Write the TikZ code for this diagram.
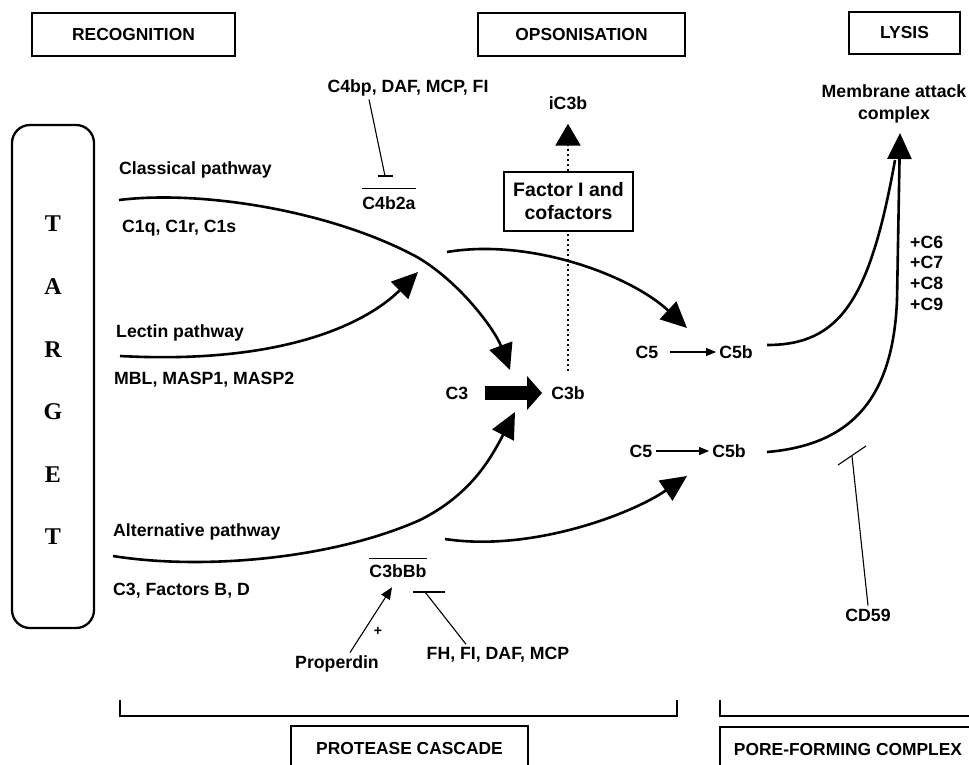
\documentclass[tikz,border=0pt]{standalone}
\usepackage{fontspec}
\setmainfont{Liberation Sans}
\newfontfamily\targetfont{Liberation Serif}
\usetikzlibrary{arrows.meta}

\begin{document}
\begin{tikzpicture}[x=1pt, y=-1pt,
    lbl/.style={font={\fontsize{17.7}{20}\selectfont\bfseries}, inner sep=3pt},
    headbox/.style={draw, line width=2pt, font={\fontsize{17.4}{20}\selectfont\bfseries}, minimum height=43pt},
    tgt/.style={font={\targetfont\fontsize{24}{26}\selectfont\bfseries}},
    route/.style={line width=2.6pt, -{Triangle[length=26pt,width=24pt]}},
    thinline/.style={line width=1.1pt},
    smallarrow/.style={line width=1.1pt, -{Triangle[length=10pt,width=8pt]}},
    bracket/.style={line width=2.6pt},
    dotroute/.style={line width=2.4pt, dash pattern=on 2.5pt off 2.5pt, -{Triangle[length=22pt,width=25pt]}}]

\fill[white] (0,0) rectangle (969,764);
\useasboundingbox (0,0) rectangle (969,764);

% ---- stage headings ----
\node[headbox, minimum width=203pt] (recog) at (133.5,34.5) {RECOGNITION};
\node[headbox, minimum width=207pt] (opson) at (581.5,34.5) {OPSONISATION};
\node[headbox, minimum width=111pt, minimum height=42pt] (lysis) at (904.5,33) {LYSIS};
\node[headbox, minimum width=237pt, minimum height=44pt, anchor=north west] (cascade) at (290,725) {PROTEASE CASCADE};
\node[headbox, minimum width=256pt, minimum height=44pt, anchor=north west] (pore) at (719,726) {PORE-FORMING COMPLEX};

\draw[bracket] (120,700) -- (120,716) -- (677,716) -- (677,700);
\draw[bracket] (720,700) -- (720,716) -- (975,716);

% ---- target surface ----
\node[draw, rounded corners=18pt, line width=2.3pt, minimum width=82pt, minimum height=503pt] (target) at (53,376.5) {};
\foreach \ch [count=\i from 0] in {T,A,R,G,E,T}
  \node[tgt] (tgt\i) at (53,{224+62.6*\i}) {\ch};

% ---- three pathways ----
\node[lbl, anchor=west] (classical) at (116,170) {Classical pathway};
\node[lbl, anchor=west] (c1qrs) at (119,228) {C1q, C1r, C1s};
\node[lbl, anchor=west] (lectin) at (113,333) {Lectin pathway};
\node[lbl, anchor=west] (mbl) at (111,380) {MBL, MASP1, MASP2};
\node[lbl, anchor=west] (altern) at (110,532) {Alternative pathway};
\node[lbl, anchor=west] (c3fact) at (110,591) {C3, Factors B, D};

\coordinate (clS) at (119,200);
\coordinate (clE) at (510,370);
\draw[route] (clS) .. controls (200,190) and (330,210) .. (417,257)
    .. controls (460,282) and (495,330) .. (clE);

\coordinate (leS) at (120,356);
\coordinate (leE) at (418,272);
\draw[route] (leS) .. controls (290,365) and (370,320) .. (leE);

\coordinate (alS) at (113,556);
\coordinate (alE) at (515,412);
\draw[route] (alS) .. controls (200,570) and (330,560) .. (420,520)
    .. controls (470,495) and (490,460) .. (alE);

% ---- convertases and their regulators ----
\node[lbl] (c4bp) at (408,88) {C4bp, DAF, MCP, FI};
\node[lbl, inner ysep=7.5pt, inner xsep=0pt] (c4b2a) at (389,203) {C4b2a};
\draw[thinline] (c4b2a.north west) -- (c4b2a.north east);
\coordinate (c4bar) at (385,176);
\draw[thinline] ([xshift=-39pt]c4bp.south) -- (c4bar);
\draw[thinline] ([xshift=-7.5pt]c4bar) -- ([xshift=7.5pt]c4bar);

\node[lbl, inner ysep=5.5pt, inner xsep=0pt] (c3bbb) at (398,571) {C3bBb};
\draw[thinline] (c3bbb.north west) -- (c3bbb.north east);
\node[lbl] (properdin) at (337,664) {Properdin};
\node[font={\fontsize{14}{16}\selectfont\bfseries}] (plus) at (378,631) {+};
\draw[thinline, -{Triangle[length=12pt,width=10pt]}] ([xshift=13pt]properdin.north) -- ([xshift=-6pt,yshift=-4pt]c3bbb.south);
\node[lbl] (fhfi) at (498,655) {FH, FI, DAF, MCP};
\coordinate (fhbar) at (425,592);
\draw[thinline] ([xshift=-32pt]fhfi.north) -- (fhbar);
\draw[thinline] ([xshift=-12pt]fhbar) -- ([xshift=20pt]fhbar);

% ---- C3 cleavage and opsonisation ----
\node[lbl] (c3) at (457,393) {C3};
\node[lbl] (c3b) at (568,393) {C3b};
\node[lbl] (ic3b) at (568,103) {iC3b};
\draw[line width=14pt, -{Triangle[length=15pt,width=33pt]}, shorten <=13pt, shorten >=6pt] (c3.east) -- (c3b.west);
\draw[dotroute, shorten <=12pt, shorten >=11pt] (c3b.north) -- (ic3b.south);
\node[draw, line width=1.1pt, fill=white, font={\fontsize{19.5}{23}\selectfont\bfseries}, align=center, minimum width=129pt, minimum height=59pt, inner sep=2pt] (facI) at (568.5,201.5) {Factor I and\\cofactors};

% ---- C5 convertases ----
\coordinate (c4S) at (447,252);
\coordinate (c4E) at (687,328);
\draw[route] (c4S) .. controls (530,238) and (630,275) .. (c4E);
\coordinate (bbS) at (445,539);
\coordinate (bbE) at (687,476);
\draw[route] (bbS) .. controls (530,552) and (630,515) .. (bbE);

\node[lbl] (c5a) at (647,352) {C5};
\node[lbl] (c5ba) at (736,352) {C5b};
\draw[smallarrow, shorten <=8pt] (c5a) -- (c5ba);
\node[lbl] (c5b) at (641,451) {C5};
\node[lbl] (c5bb) at (729,451) {C5b};
\draw[smallarrow] (c5b) -- (c5bb);

% ---- membrane attack complex ----
\node[lbl, align=center, font={\fontsize{17.7}{22}\selectfont\bfseries}] (mac) at (894,104) {Membrane attack\\complex};
\node[lbl, align=left, anchor=west, font={\fontsize{17.7}{20.7}\selectfont\bfseries}] (cplus) at (907,273) {+C6\\+C7\\+C8\\+C9};
\coordinate (macA) at (767,345);
\coordinate (macB) at (767,452);
\coordinate (macTip) at (900,133);
\draw[line width=2.6pt] (macA) .. controls (840,345) and (870,300) .. (895,160);
\draw[line width=2.6pt, -{Triangle[length=26pt,width=24pt]}] (macB) .. controls (850,445) and (893,400) .. (897,300) -- (macTip);

\node[lbl] (cd59) at (868,615) {CD59};
\coordinate (cdbar) at (852,456);
\draw[thinline] (cd59.north) -- (cdbar);
\draw[thinline] (838,465) -- (866,446);

\end{tikzpicture}
\end{document}
